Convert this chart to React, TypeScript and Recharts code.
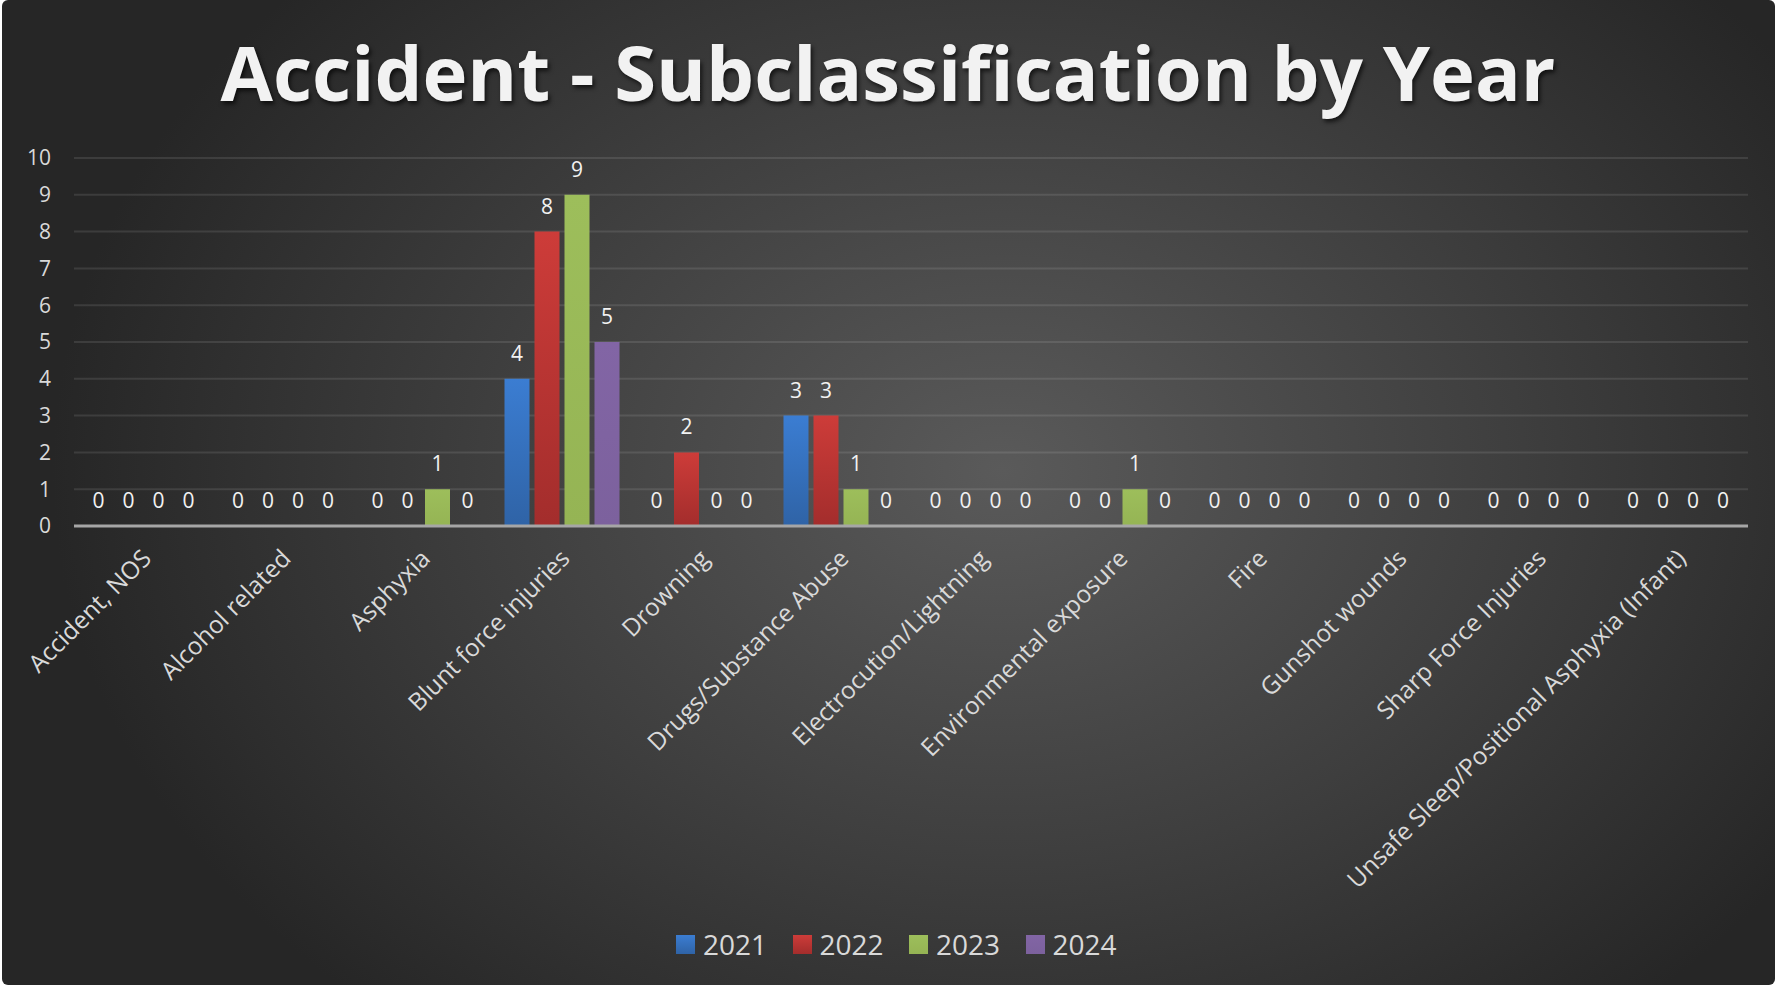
import React from "react";
import {
  BarChart,
  Bar,
  XAxis,
  YAxis,
  CartesianGrid,
  Legend,
  LabelList,
} from "recharts";

const categories = [
  "Accident, NOS",
  "Alcohol related",
  "Asphyxia",
  "Blunt force injuries",
  "Drowning",
  "Drugs/Substance Abuse",
  "Electrocution/Lightning",
  "Environmental exposure",
  "Fire",
  "Gunshot wounds",
  "Sharp Force Injuries",
  "Unsafe Sleep/Positional Asphyxia (Infant)",
];
const y2021 = [0, 0, 0, 4, 0, 3, 0, 0, 0, 0, 0, 0];
const y2022 = [0, 0, 0, 8, 2, 3, 0, 0, 0, 0, 0, 0];
const y2023 = [0, 0, 1, 9, 0, 1, 0, 1, 0, 0, 0, 0];
const y2024 = [0, 0, 0, 5, 0, 0, 0, 0, 0, 0, 0, 0];
const yTicks = [0, 1, 2, 3, 4, 5, 6, 7, 8, 9, 10];

const series = [
  { key: "y2021", name: "2021", top: "#3b7dd2", bottom: "#2f63a6" },
  { key: "y2022", name: "2022", top: "#cd3c39", bottom: "#a32d2c" },
  { key: "y2023", name: "2023", top: "#9dbe5b", bottom: "#95b454" },
  { key: "y2024", name: "2024", top: "#8265a5", bottom: "#7c619d" },
];

const data = categories.map((name, i) => ({
  name,
  y2021: y2021[i],
  y2022: y2022[i],
  y2023: y2023[i],
  y2024: y2024[i],
}));

const FONT = "'Open Sans', sans-serif";

// rotated category labels, anchored at their end just under the tick
const XTick = (props: any) => {
  const { x, y, payload } = props;
  return (
    <g transform={`translate(${x + 9},${y + 34})`}>
      <text
        textAnchor="end"
        transform="rotate(-45)"
        fill="#d9d9d9"
        fontSize={24.5}
        fontFamily={FONT}
      >
        {payload.value}
      </text>
    </g>
  );
};

// value label drawn even when the bar has no height (zeros)
const ValueLabel = (p: any) => {
  const { x, y, width, value } = p;
  if (value == null) return null;
  return (
    <text
      x={Number(x) + Number(width) / 2}
      y={Number(y) - 18}
      textAnchor="middle"
      fill="#f2f2f2"
      fontSize={21}
      fontFamily={FONT}
    >
      {String(value)}
    </text>
  );
};

const LegendContent = () => (
  <div style={{ display: "flex", fontFamily: FONT }}>
    {series.map((s) => (
      <div
        key={s.key}
        style={{ display: "flex", alignItems: "center", width: 116.5 }}
      >
        <span
          style={{
            width: 19,
            height: 19,
            background: `linear-gradient(${s.top}, ${s.bottom})`,
            marginRight: 8,
          }}
        />
        <span style={{ fontSize: 28, color: "#d9d9d9", lineHeight: "38px" }}>
          {s.name}
        </span>
      </div>
    ))}
  </div>
);

export default function App() {
  return (
    <div
      style={{
        position: "absolute",
        left: 0,
        top: 0,
        width: 1776,
        height: 987,
        background: "#ffffff",
        overflow: "hidden",
      }}
    >
      <div
        style={{
          position: "absolute",
          left: 2,
          top: 0,
          width: 1773,
          height: 985,
          borderRadius: 6,
          background:
            "radial-gradient(ellipse 950px 720px at 1000px 470px, #5a5a5a 0%, #3e3e3e 55%, #262626 100%)",
        }}
      />
      <div
        style={{
          position: "absolute",
          left: 0,
          top: 34,
          width: 1776,
          textAlign: "center",
          fontFamily: FONT,
          fontWeight: 700,
          fontSize: 76,
          lineHeight: "76px",
          color: "#f2f2f2",
          textShadow: "2px 3px 4px rgba(0,0,0,0.65)",
        }}
      >
        Accident - Subclassification by Year
      </div>
      <div style={{ position: "absolute", left: 0, top: 0 }}>
        <BarChart
          width={1776}
          height={987}
          data={data}
          margin={{ top: 158, right: 28, bottom: 0, left: 0 }}
          barSize={25}
          barGap={5}
        >
          <defs>
            {series.map((s) => (
              <linearGradient
                key={s.key}
                id={`grad-${s.key}`}
                x1="0"
                y1="0"
                x2="0"
                y2="1"
              >
                <stop offset="0%" stopColor={s.top} />
                <stop offset="100%" stopColor={s.bottom} />
              </linearGradient>
            ))}
          </defs>
          <CartesianGrid
            vertical={false}
            stroke="rgba(255,255,255,0.1)"
            strokeWidth={2}
          />
          <XAxis
            dataKey="name"
            interval={0}
            height={461}
            tickLine={false}
            tickSize={0}
            tickMargin={0}
            axisLine={{ stroke: "#a6a6a6", strokeWidth: 3 }}
            tick={<XTick />}
          />
          <YAxis
            width={74}
            domain={[0, 10]}
            ticks={yTicks}
            axisLine={false}
            tickLine={false}
            tickSize={0}
            tickMargin={23}
            tick={{ fill: "#d9d9d9", fontSize: 21, fontFamily: FONT }}
          />
          <Legend
            verticalAlign="middle"
            align="center"
            content={<LegendContent />}
            wrapperStyle={{
              position: "absolute",
              left: 676,
              top: 925,
              width: 470,
            }}
          />
          {series.map((s) => (
            <Bar
              key={s.key}
              dataKey={s.key}
              name={s.name}
              fill={`url(#grad-${s.key})`}
              minPointSize={(v: number) => (v === 0 ? 0.01 : 0)}
              isAnimationActive={false}
            >
              <LabelList dataKey={s.key} content={<ValueLabel />} />
            </Bar>
          ))}
        </BarChart>
      </div>
    </div>
  );
}
